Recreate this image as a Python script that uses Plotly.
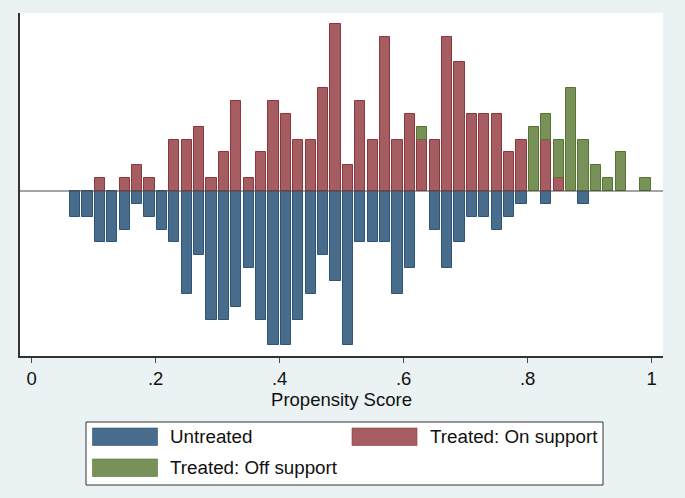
import plotly.graph_objects as go

# Bin centers of the propensity-score histogram (bin width 0.02)
bin_centers = [0.07, 0.09, 0.11, 0.13, 0.15, 0.17, 0.19, 0.21, 0.23, 0.25,
               0.27, 0.29, 0.31, 0.33, 0.35, 0.37, 0.39, 0.41, 0.43, 0.45,
               0.47, 0.49, 0.51, 0.53, 0.55, 0.57, 0.59, 0.61, 0.63, 0.65,
               0.67, 0.69, 0.71, 0.73, 0.75, 0.77, 0.79, 0.81, 0.83, 0.85,
               0.87, 0.89, 0.91, 0.93, 0.95, 0.97, 0.99]

untreated = [2, 2, 4, 4, 3, 1, 2, 3, 4, 8,
             5, 10, 10, 9, 6, 10, 12, 12, 10, 8,
             5, 7, 12, 4, 4, 4, 8, 6, 0, 3,
             6, 4, 2, 2, 3, 2, 1, 0, 1, 0,
             0, 1, 0, 0, 0, 0, 0]

treated_on = [0, 0, 1, 0, 1, 2, 1, 0, 4, 4,
              5, 1, 3, 7, 1, 3, 7, 6, 4, 4,
              8, 13, 2, 7, 4, 12, 4, 6, 4, 4,
              12, 10, 6, 6, 6, 3, 4, 0, 4, 1,
              0, 0, 0, 0, 0, 0, 0]

# stacked on top of the on-support bars
treated_off = [0, 0, 0, 0, 0, 0, 0, 0, 0, 0,
               0, 0, 0, 0, 0, 0, 0, 0, 0, 0,
               0, 0, 0, 0, 0, 0, 0, 0, 1, 0,
               0, 0, 0, 0, 0, 0, 0, 5, 2, 3,
               8, 4, 2, 1, 3, 0, 1]

tick_vals = [0, 0.2, 0.4, 0.6, 0.8, 1]
tick_text = ["0", ".2", ".4", ".6", ".8", "1"]

legend_labels = ["Untreated", "Treated: On support", "Treated: Off support"]

FONT = "Liberation Sans, Arial, Helvetica, sans-serif"
BG = "#EAF2F3"
fills = ["#486C8C", "#A65D62", "#779159"]
lines = ["#2E5479", "#90353B", "#55752F"]
BW = 0.0165


def nz(vals, sign=1):
    # empty bins are left out so that no outline is drawn for them
    return [sign * v if v else None for v in vals]


fig = go.Figure()
fig.add_trace(go.Bar(x=bin_centers, y=nz(untreated, -1), width=BW,
                     marker=dict(color=fills[0], line=dict(color=lines[0], width=1)),
                     name=legend_labels[0], showlegend=False))
fig.add_trace(go.Bar(x=bin_centers, y=nz(treated_on), width=BW,
                     marker=dict(color=fills[1], line=dict(color=lines[1], width=1)),
                     name=legend_labels[1], showlegend=False))
fig.add_trace(go.Bar(x=bin_centers, y=nz(treated_off), width=BW,
                     marker=dict(color=fills[2], line=dict(color=lines[2], width=1)),
                     name=legend_labels[2], showlegend=False))

W, H = 685, 498
L, R, T, B = 20, 22, 13, 142
pw, ph = W - L - R, H - T - B


def px2x(px):
    return (px - L) / pw


def px2y(py):
    return (H - B - py) / ph


shapes = [
    # baseline at zero
    dict(type="line", xref="paper", yref="y", x0=0, x1=1, y0=0, y1=0,
         line=dict(color="#4a4a4a", width=1.2), layer="above"),
    # legend box
    dict(type="rect", xref="paper", yref="paper",
         x0=px2x(86), x1=px2x(603), y0=px2y(485), y1=px2y(422),
         line=dict(color="#333333", width=1), fillcolor="white", layer="above"),
]
annotations = []
legend_items = [(92.5, 428, 168, 0), (352, 428, 428, 1), (92.5, 459, 168, 2)]
for sx, sy, tx, k in legend_items:
    shapes.append(dict(type="rect", xref="paper", yref="paper",
                       x0=px2x(sx), x1=px2x(sx + 65), y0=px2y(sy + 17.5), y1=px2y(sy),
                       line=dict(color=lines[k], width=0.6), fillcolor=fills[k], layer="above"))
    annotations.append(dict(xref="paper", yref="paper", x=px2x(tx), y=px2y(sy + 8.5),
                            xanchor="left", yanchor="middle", showarrow=False,
                            text=legend_labels[k],
                            font=dict(family=FONT, size=18.8, color="#111111")))

fig.update_layout(
    width=W, height=H,
    margin=dict(l=L, r=R, t=T, b=B),
    paper_bgcolor=BG, plot_bgcolor="white",
    barmode="relative", bargap=0,
    showlegend=False,
    font=dict(family=FONT, size=18, color="#111111"),
    shapes=shapes, annotations=annotations,
    xaxis=dict(range=[-0.0189, 1.0183], tickvals=tick_vals, ticktext=tick_text,
               ticks="outside", ticklen=5, tickwidth=1.2, tickcolor="#4a4a4a",
               showline=True, linecolor="#333333", linewidth=1.5,
               showgrid=False, zeroline=False,
               tickfont=dict(family=FONT, size=18.5, color="#111111"),
               title=dict(text="Propensity Score", standoff=0,
                          font=dict(family=FONT, size=18.5, color="#111111"))),
    yaxis=dict(range=[-12.84, 13.85], showticklabels=False, ticks="",
               showline=True, linecolor="#333333", linewidth=1.5,
               showgrid=False, zeroline=False),
)

fig.write_html("out.html", config={"displayModeBar": False},
               post_script="document.body.style.margin='0';")
